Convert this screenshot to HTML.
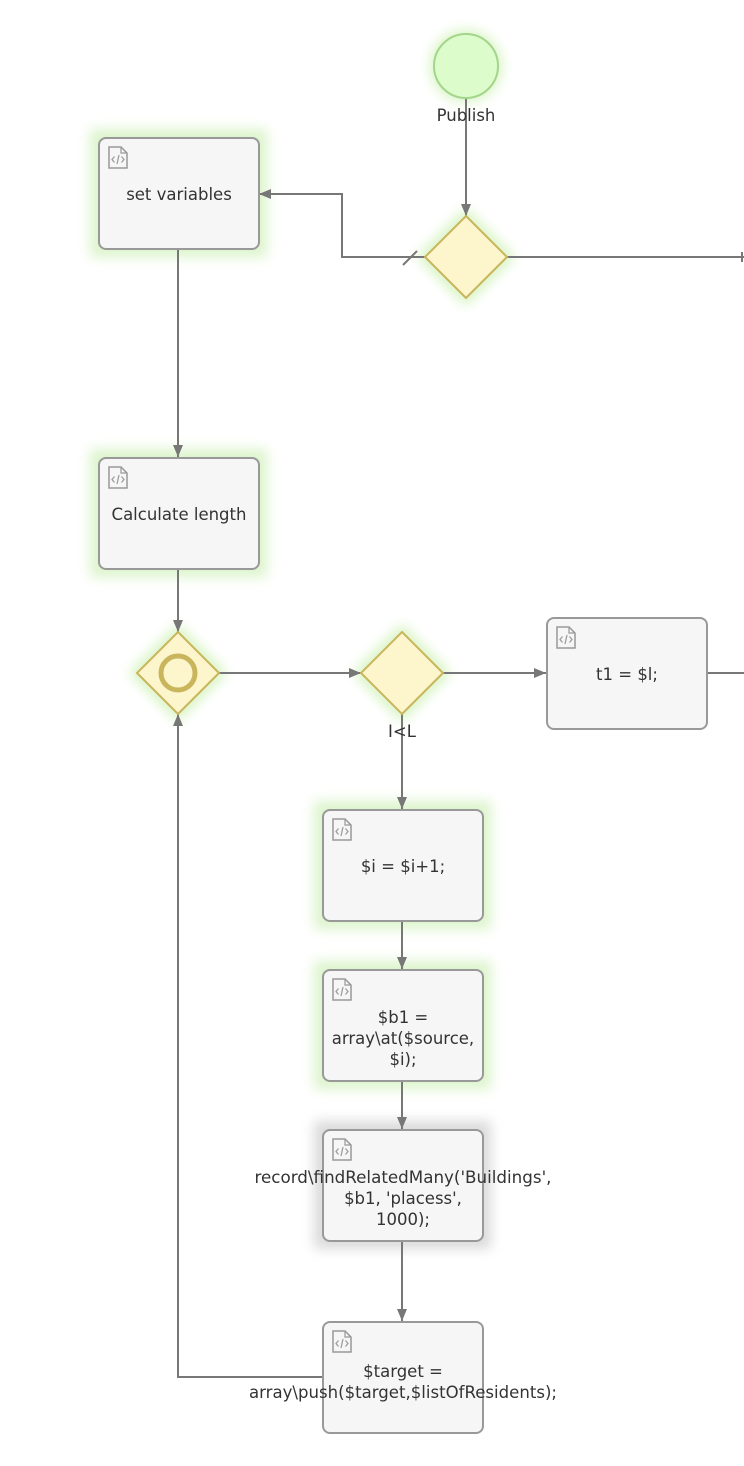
<!DOCTYPE html>
<html><head><meta charset="utf-8"><style>
html,body{margin:0;padding:0;background:#fff;}
svg{display:block;}
text{font-family:"DejaVu Sans","Liberation Sans",sans-serif;font-size:16.5px;fill:#333;}
</style></head><body>
<svg width="744" height="1466" viewBox="0 0 744 1466" xmlns="http://www.w3.org/2000/svg">
<defs>
<filter id="g" x="-30%" y="-30%" width="160%" height="160%"><feGaussianBlur stdDeviation="6"/></filter>
<marker id="a" markerWidth="12" markerHeight="10" refX="12" refY="5" orient="auto" markerUnits="userSpaceOnUse"><path d="M0,0 L12,5 L0,10 z" fill="#777"/></marker>
<g id="ic"><path d="M0,0 h12 l6,6 v15 h-18 z" fill="none" stroke="#999" stroke-width="1.5"/><path d="M12,0 v6 h6" fill="none" stroke="#999" stroke-width="1.2"/><path d="M5.5,9.5 l-2.5,3 l2.5,3 M12.5,9.5 l2.5,3 l-2.5,3 M10,8 l-2,9" fill="none" stroke="#999" stroke-width="1.2"/></g>
</defs>
<g filter="url(#g)" opacity="0.85">
<circle cx="466" cy="66" r="36" fill="#d0f2b8"/>
<rect x="90" y="129" width="177" height="128" fill="#d6f2c2"/>
<rect x="90" y="449" width="177" height="128" fill="#d6f2c2"/>
<rect x="314" y="801" width="177" height="128" fill="#d6f2c2"/>
<rect x="314" y="961" width="177" height="128" fill="#d6f2c2"/>
<rect x="314" y="1121" width="177" height="128" fill="#d4d4d4"/>
<path d="M466,208 L515,257 L466,306 L417,257 z" fill="#d0f2b8"/>
<path d="M178,624 L227,673 L178,722 L129,673 z" fill="#d0f2b8"/>
<path d="M402,624 L451,673 L402,722 L353,673 z" fill="#d0f2b8"/>
</g>
<g stroke="#777" stroke-width="2" fill="none">
<line x1="466" y1="98" x2="466" y2="216" marker-end="url(#a)"/>
<line x1="507" y1="257" x2="744" y2="257"/>
<line x1="742" y1="252" x2="742" y2="262"/>
<polyline points="425,257 342,257 342,194 259,194" marker-end="url(#a)"/>
<line x1="403" y1="265" x2="417" y2="251"/>
<line x1="178" y1="249" x2="178" y2="457" marker-end="url(#a)"/>
<line x1="178" y1="569" x2="178" y2="632" marker-end="url(#a)"/>
<line x1="219" y1="673" x2="361" y2="673" marker-end="url(#a)"/>
<line x1="443" y1="673" x2="546" y2="673" marker-end="url(#a)"/>
<line x1="707" y1="673" x2="744" y2="673"/>
<line x1="402" y1="714" x2="402" y2="809" marker-end="url(#a)"/>
<line x1="402" y1="921" x2="402" y2="969" marker-end="url(#a)"/>
<line x1="402" y1="1081" x2="402" y2="1129" marker-end="url(#a)"/>
<line x1="402" y1="1241" x2="402" y2="1321" marker-end="url(#a)"/>
<polyline points="322,1377 178,1377 178,714" marker-end="url(#a)"/>
</g>
<circle cx="466" cy="66" r="32" fill="#ddfccc" stroke="#a3d68a" stroke-width="2"/>
<text x="466" y="121" text-anchor="middle">Publish</text>
<g fill="#fdf6cc" stroke="#c9b55c" stroke-width="2">
<path d="M466,216 L507,257 L466,298 L425,257 z"/>
<path d="M178,632 L219,673 L178,714 L137,673 z"/>
<path d="M402,632 L443,673 L402,714 L361,673 z"/>
</g>
<circle cx="178" cy="673" r="17" fill="none" stroke="#c9b55c" stroke-width="5"/>
<text x="402" y="737" text-anchor="middle">I&lt;L</text>
<g fill="#f6f6f6" stroke="#999" stroke-width="2">
<rect x="99" y="138" width="160" height="111" rx="7"/>
<rect x="99" y="458" width="160" height="111" rx="7"/>
<rect x="547" y="618" width="160" height="111" rx="7"/>
<rect x="323" y="810" width="160" height="111" rx="7"/>
<rect x="323" y="970" width="160" height="111" rx="7"/>
<rect x="323" y="1130" width="160" height="111" rx="7"/>
<rect x="323" y="1322" width="160" height="111" rx="7"/>
</g>
<use href="#ic" x="109" y="147"/>
<use href="#ic" x="109" y="467"/>
<use href="#ic" x="557" y="627"/>
<use href="#ic" x="333" y="819"/>
<use href="#ic" x="333" y="979"/>
<use href="#ic" x="333" y="1139"/>
<use href="#ic" x="333" y="1331"/>
<g text-anchor="middle">
<text x="179" y="200">set variables</text>
<text x="179" y="520">Calculate length</text>
<text x="627" y="680">t1 = $l;</text>
<text x="403" y="872">$i = $i+1;</text>
<text x="403" y="1023">$b1 =</text>
<text x="403" y="1044">array\at($source,</text>
<text x="403" y="1065">$i);</text>
<text x="403" y="1183" textLength="297" lengthAdjust="spacingAndGlyphs">record\findRelatedMany('Buildings',</text>
<text x="403" y="1204">$b1, 'placess',</text>
<text x="403" y="1225">1000);</text>
<text x="403" y="1377">$target =</text>
<text x="403" y="1398" textLength="308" lengthAdjust="spacingAndGlyphs">array\push($target,$listOfResidents);</text>
</g>
</svg>
</body></html>
